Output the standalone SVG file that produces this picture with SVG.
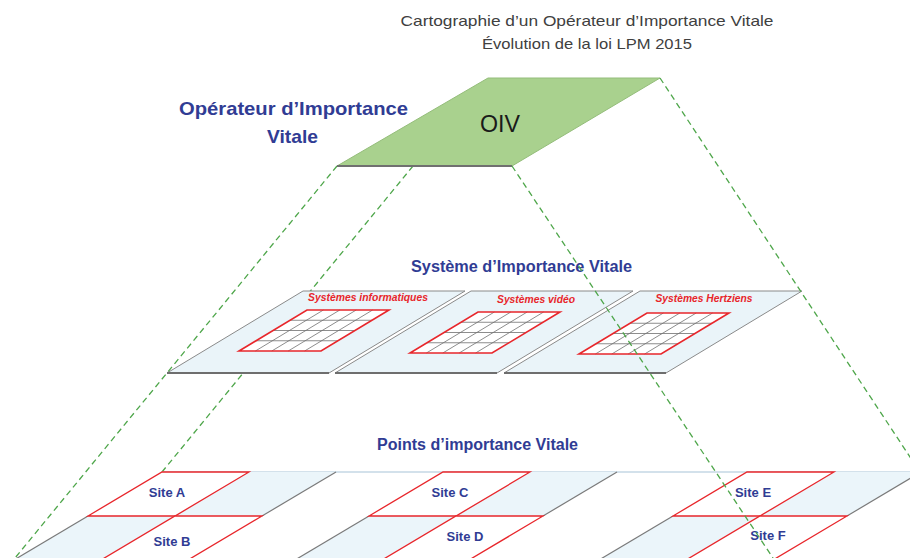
<svg xmlns="http://www.w3.org/2000/svg" width="910" height="558" viewBox="0 0 910 558">
<defs>
<style>
.title{font-family:"Liberation Sans",Arial,sans-serif;font-size:15px;fill:#404040;text-anchor:middle}
.blue{font-family:"Liberation Sans",Arial,sans-serif;font-weight:bold;fill:#303c94;text-anchor:middle}
.red{font-family:"Liberation Sans",Arial,sans-serif;font-weight:bold;font-style:italic;font-size:10.5px;fill:#e8262b;text-anchor:middle}
.site{font-family:"Liberation Sans",Arial,sans-serif;font-weight:bold;font-size:13px;fill:#303c94;text-anchor:middle}
.oivtext{font-family:"Liberation Sans",Arial,sans-serif;font-size:24px;fill:#1a1a1a;text-anchor:middle}
.dash{stroke:#4ea64a;stroke-width:1.3;stroke-dasharray:6 4;fill:none}
.panel{fill:#eaf4f9;stroke:#8a8a8a;stroke-width:1}
.shadow{stroke:#6e6e6e;stroke-width:2}
.gridfill{fill:#ffffff}
.gridbox{fill:none;stroke:#e8262b;stroke-width:1.6}
.gridline{stroke:#707070;stroke-width:0.8}
.sitecell{fill:#ffffff;stroke:#e8262b;stroke-width:1.3}
.bluecell{fill:#ebf5fa}
.gray{stroke:#7a7a7a;stroke-width:1.2}
</style>
<g id="panelShape">
<polygon class="panel" points="0,0 162,0 26,82 -136,82"/>
<line class="shadow" x1="-136" y1="82" x2="26" y2="82"/>
</g>
<g id="grid">
<polygon class="gridfill" points="0,0 82,0 14,41 -68,41"/>
<line class="gridline" x1="-17" y1="10.25" x2="65" y2="10.25"/>
<line class="gridline" x1="-34" y1="20.5" x2="48" y2="20.5"/>
<line class="gridline" x1="-51" y1="30.75" x2="31" y2="30.75"/>
<line class="gridline" x1="16.4" y1="0" x2="-51.6" y2="41"/>
<line class="gridline" x1="32.8" y1="0" x2="-35.2" y2="41"/>
<line class="gridline" x1="49.2" y1="0" x2="-18.8" y2="41"/>
<line class="gridline" x1="65.6" y1="0" x2="-2.4" y2="41"/>
<polygon class="gridbox" points="0,0 82,0 14,41 -68,41"/>
</g>
<g id="blockShape">
<polygon class="bluecell" points="87,0 174,0 100,44 13,44"/>
<polygon class="bluecell" points="-74,44 13,44 -61,88 -148,88"/>
<line class="gray" x1="174" y1="0" x2="100" y2="44"/>
<line class="gray" x1="-74" y1="44" x2="-148" y2="88"/>
<polygon class="sitecell" points="0,0 87,0 13,44 -74,44"/>
<polygon class="sitecell" points="13,44 100,44 26,88 -61,88"/>
</g>
</defs>

<rect width="910" height="558" fill="#ffffff"/>

<g id="title">
<text class="title" x="587" y="26" textLength="373" lengthAdjust="spacingAndGlyphs">Cartographie d’un Opérateur d’Importance Vitale</text>
<text class="title" x="587" y="49" textLength="210" lengthAdjust="spacingAndGlyphs">Évolution de la loi LPM 2015</text>
</g>

<g id="connectors-back">
<line class="dash" x1="337" y1="166" x2="15" y2="558"/>
<line class="dash" x1="413" y1="166" x2="162" y2="472"/>
</g>

<g id="oiv">
<polygon points="488,78 660,78 512,166 337,166" fill="#a9d18e" stroke="#94bd7a" stroke-width="1"/>
<line x1="337" y1="166" x2="512" y2="166" stroke="#707070" stroke-width="2"/>
<text class="oivtext" x="500" y="132" textLength="40" lengthAdjust="spacingAndGlyphs">OIV</text>
</g>

<g id="oiv-label">
<text class="blue" x="293.5" y="115" font-size="19" textLength="229" lengthAdjust="spacingAndGlyphs">Opérateur d’Importance</text>
<text class="blue" x="292.5" y="143" font-size="19" textLength="51" lengthAdjust="spacingAndGlyphs">Vitale</text>
</g>

<g id="siv-label">
<text class="blue" x="521.5" y="272" font-size="16" textLength="221" lengthAdjust="spacingAndGlyphs">Système d’Importance Vitale</text>
</g>

<g id="systemes-informatiques">
<use href="#panelShape" x="303" y="291"/>
<use href="#grid" x="307" y="310"/>
<text class="red" x="368" y="301" textLength="120" lengthAdjust="spacingAndGlyphs">Systèmes informatiques</text>
</g>

<g id="systemes-video">
<use href="#panelShape" x="471" y="291"/>
<use href="#grid" x="478" y="312"/>
<text class="red" x="536" y="303" textLength="78" lengthAdjust="spacingAndGlyphs">Systèmes vidéo</text>
</g>

<g id="systemes-hertziens">
<use href="#panelShape" x="640" y="291"/>
<use href="#grid" x="647" y="313"/>
<text class="red" x="704" y="302" textLength="97" lengthAdjust="spacingAndGlyphs">Systèmes Hertziens</text>
</g>

<g id="piv-label">
<text class="blue" x="477.5" y="450" font-size="16" textLength="201" lengthAdjust="spacingAndGlyphs">Points d’importance Vitale</text>
</g>

<line x1="162" y1="472" x2="910" y2="472" stroke="#a7c4d8" stroke-width="1.2"/>

<g id="sites-a-b">
<use href="#blockShape" x="162" y="472"/>
<text class="site" x="167" y="497">Site A</text>
<text class="site" x="172" y="546">Site B</text>
</g>

<g id="sites-c-d">
<use href="#blockShape" x="443" y="472"/>
<text class="site" x="450" y="497">Site C</text>
<text class="site" x="465" y="541">Site D</text>
</g>

<g id="sites-e-f">
<use href="#blockShape" x="747" y="472"/>
<text class="site" x="753" y="497">Site E</text>
<text class="site" x="768" y="540">Site F</text>
</g>

<g id="connectors-front">
<line class="dash" x1="512" y1="166" x2="773" y2="558"/>
<line class="dash" x1="660" y1="78" x2="912" y2="460"/>
</g>
</svg>
